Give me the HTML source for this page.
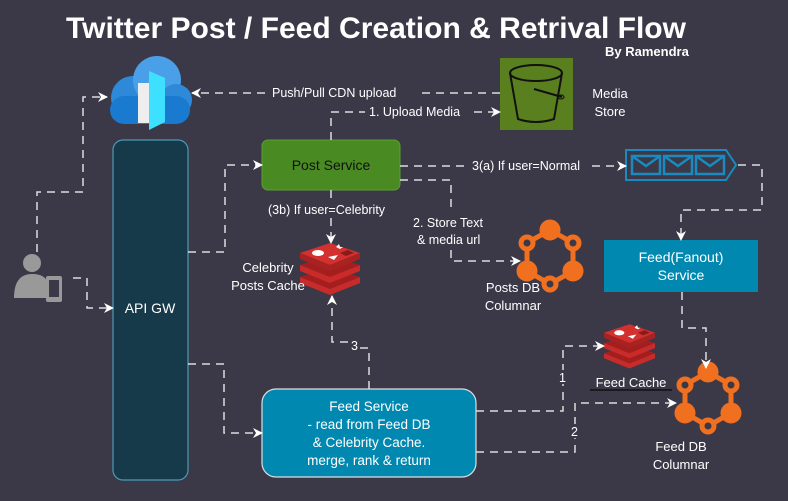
<!DOCTYPE html>
<html><head><meta charset="utf-8"><style>
html,body{margin:0;padding:0;background:#3b3947;}
svg{display:block;font-family:"Liberation Sans",sans-serif;}
</style></head><body>
<svg width="788" height="501" viewBox="0 0 788 501" xmlns="http://www.w3.org/2000/svg">
<defs>
<marker id="a" markerWidth="10" markerHeight="10" refX="9" refY="5" orient="auto" markerUnits="userSpaceOnUse">
<path d="M0,0 L10,5 L0,10 L3,5 z" fill="#fff"/></marker>
<g id="redis">
<path d="M0,32 L30,22 L60,32 L30,44 z" fill="#a41e1e"/>
<path d="M0,32 L0,38 L30,50 L60,38 L60,32 L30,44 z" fill="#c92a2a"/>
<path d="M0,20 L30,10 L60,20 L30,32 z" fill="#a41e1e"/>
<path d="M0,20 L0,26 L30,38 L60,26 L60,20 L30,32 z" fill="#c92a2a"/>
<path d="M0,8 L30,-2 L60,8 L30,20 z" fill="#d33030"/>
<path d="M0,8 L0,14 L30,26 L60,14 L60,8 L30,20 z" fill="#a82222"/>
<ellipse cx="18" cy="8" rx="6" ry="3" fill="#fff"/>
<path d="M36,2 l3,-3 l1,3 l3,0 l-3,2 z" fill="#fff"/>
<path d="M28,12 l10,-2 l-4,5 z" fill="#fff"/>
<path d="M40,8 l8,-3 l6,3 l-8,3 z" fill="#8a1a1a"/>
</g>
<g id="graph" stroke="#f07020" stroke-width="5" fill="none">
<polygon points="0,-27 23,-14 23,14 0,27 -23,14 -23,-14"/>
<circle cx="0" cy="-27" r="8" fill="#f07020"/>
<circle cx="23" cy="-14" r="6" fill="#3b3947"/>
<circle cx="23" cy="14" r="8" fill="#f07020"/>
<circle cx="0" cy="27" r="6" fill="#3b3947"/>
<circle cx="-23" cy="14" r="8" fill="#f07020"/>
<circle cx="-23" cy="-14" r="6" fill="#3b3947"/>
</g>
</defs>

<text x="376" y="38" font-size="30" font-weight="bold" fill="#fff" text-anchor="middle" textLength="620" lengthAdjust="spacingAndGlyphs">Twitter Post / Feed Creation &amp; Retrival Flow</text>
<text x="605" y="56" font-size="13" font-weight="bold" fill="#fff">By Ramendra</text>

<!-- cloud -->
<g>
<circle cx="133" cy="98" r="22" fill="#2e8ad8"/>
<circle cx="157" cy="80" r="24" fill="#4aa0e8"/>
<circle cx="176" cy="100" r="16" fill="#2e8ad8"/>
<rect x="110" y="96" width="80" height="28" rx="14" fill="#1a7ad0"/>
<rect x="138" y="83" width="12" height="40" fill="#eee"/>
<polygon points="149,71 165,78 165,122 149,130" fill="#3ee0ff"/>
</g>

<!-- user -->
<g fill="#999">
<circle cx="32" cy="263" r="9"/>
<path d="M14,298 q0,-24 18,-24 q14,0 16,10 l0,14 z"/>
<rect x="46" y="276" width="16" height="26" rx="2" fill="#999"/>
<rect x="49" y="280" width="10" height="17" fill="#3b3947"/>
</g>

<!-- API GW -->
<rect x="113" y="140" width="75" height="340" rx="10" fill="#163a4a" stroke="#4a9ab8" stroke-width="1.2"/>
<text x="150" y="313" font-size="14" fill="#fff" text-anchor="middle">API GW</text>

<!-- Post service -->
<rect x="262" y="140" width="138" height="50" rx="6" fill="#4a8a22" stroke="#5aa030"/>
<text x="331" y="170" font-size="14" fill="#111" text-anchor="middle">Post Service</text>

<!-- bucket -->
<rect x="500" y="58" width="73" height="72" fill="#5a7f1e"/>
<ellipse cx="536" cy="73" rx="26" ry="8" fill="none" stroke="#111" stroke-width="2"/>
<path d="M510,73 L518,119 Q536,125 554,119 L562,73" fill="none" stroke="#111" stroke-width="2"/>
<path d="M534,89 L562,97" stroke="#111" stroke-width="2"/>
<ellipse cx="561" cy="97" rx="3" ry="2" fill="none" stroke="#111"/>
<text x="610" y="98" font-size="13" fill="#fff" text-anchor="middle">Media</text>
<text x="610" y="116" font-size="13" fill="#fff" text-anchor="middle">Store</text>

<!-- queue -->
<path d="M626,150 L726,150 L736,165 L726,180 L626,180 z" fill="none" stroke="#1a8ac0" stroke-width="2"/>
<g fill="none" stroke="#1a8ac0" stroke-width="2.5">
<rect x="632" y="156" width="28" height="18"/><path d="M632,156 l14,10 l14,-10"/>
<rect x="664" y="156" width="28" height="18"/><path d="M664,156 l14,10 l14,-10"/>
<rect x="696" y="156" width="28" height="18"/><path d="M696,156 l14,10 l14,-10"/>
</g>

<!-- fanout -->
<rect x="604" y="240" width="154" height="52" fill="#0088b0"/>
<text x="681" y="262" font-size="14" fill="#fff" text-anchor="middle">Feed(Fanout)</text>
<text x="681" y="280" font-size="14" fill="#fff" text-anchor="middle">Service</text>

<!-- posts db -->
<use href="#graph" x="550" y="257"/>
<text x="513" y="292" font-size="13" fill="#fff" text-anchor="middle">Posts DB</text>
<text x="513" y="310" font-size="13" fill="#fff" text-anchor="middle">Columnar</text>

<!-- celebrity redis -->
<use href="#redis" x="300" y="245"/>
<text x="268" y="272" font-size="13" fill="#fff" text-anchor="middle">Celebrity</text>
<text x="268" y="290" font-size="13" fill="#fff" text-anchor="middle">Posts Cache</text>

<!-- feed cache -->
<g transform="translate(604,326) scale(0.85)"><use href="#redis"/></g>
<text x="631" y="387" font-size="13" fill="#fff" text-anchor="middle">Feed Cache</text>
<line x1="590" y1="390" x2="672" y2="390" stroke="#111" stroke-width="1.5"/>

<!-- feed db -->
<use href="#graph" x="708" y="399"/>
<text x="681" y="451" font-size="13" fill="#fff" text-anchor="middle">Feed DB</text>
<text x="681" y="469" font-size="13" fill="#fff" text-anchor="middle">Columnar</text>

<!-- feed service -->
<rect x="262" y="389" width="214" height="88" rx="14" fill="#0088b0" stroke="#ddd" stroke-width="1.2"/>
<g font-size="13.5" fill="#fff" text-anchor="middle">
<text x="369" y="411">Feed Service</text>
<text x="369" y="429">- read from Feed DB</text>
<text x="369" y="447">&amp; Celebrity Cache.</text>
<text x="369" y="465">merge, rank &amp; return</text>
</g>

<!-- connectors -->
<g fill="none" stroke="#ddd" stroke-width="1.5" stroke-dasharray="8,6">
<path d="M37,252 L37,192 L83,192 L83,97 L107,97" marker-end="url(#a)"/>
<path d="M73,278 L87,278 L87,308 L113,308" marker-end="url(#a)"/>
<path d="M188,252 L225,252 L225,165 L262,165" marker-end="url(#a)"/>
<path d="M500,93 L420,93"/>
<path d="M265,93 L192,93" marker-end="url(#a)"/>
<path d="M331,140 L331,112 L365,112"/>
<path d="M474,112 L500,112" marker-end="url(#a)"/>
<path d="M400,166 L470,166"/>
<path d="M592,166 L626,166" marker-end="url(#a)"/>
<path d="M400,180 L451,180 L451,212"/>
<path d="M451,250 L451,261 L520,261" marker-end="url(#a)"/>
<path d="M331,190 L331,202"/>
<path d="M331,218 L331,243" marker-end="url(#a)"/>
<path d="M738,165 L762,165 L762,210 L681,210 L681,240" marker-end="url(#a)"/>
<path d="M682,292 L682,328 L706,328 L706,368" marker-end="url(#a)"/>
<path d="M188,364 L224,364 L224,433 L262,433" marker-end="url(#a)"/>
<path d="M369,389 L369,348 L360,348"/>
<path d="M348,342 L332,342 L332,296" marker-end="url(#a)"/>
<path d="M476,411 L563,411 L563,346 L604,346" marker-end="url(#a)"/>
<path d="M476,452 L575,452 L575,403 L676,403" marker-end="url(#a)"/>
</g>
<rect x="556" y="370" width="14" height="14" fill="#3b3947"/>
<rect x="568" y="424" width="14" height="14" fill="#3b3947"/>

<!-- connector labels -->
<g font-size="12.5" fill="#fff">
<text x="272" y="97">Push/Pull CDN upload</text>
<text x="369" y="116">1. Upload Media</text>
<text x="472" y="170">3(a) If user=Normal</text>
<text x="413" y="227">2. Store Text</text>
<text x="417" y="244">&amp; media url</text>
<text x="268" y="214">(3b) If user=Celebrity</text>
<text x="351" y="350">3</text>
<text x="559" y="382">1</text>
<text x="571" y="436">2</text>
</g>
</svg>
</body></html>
